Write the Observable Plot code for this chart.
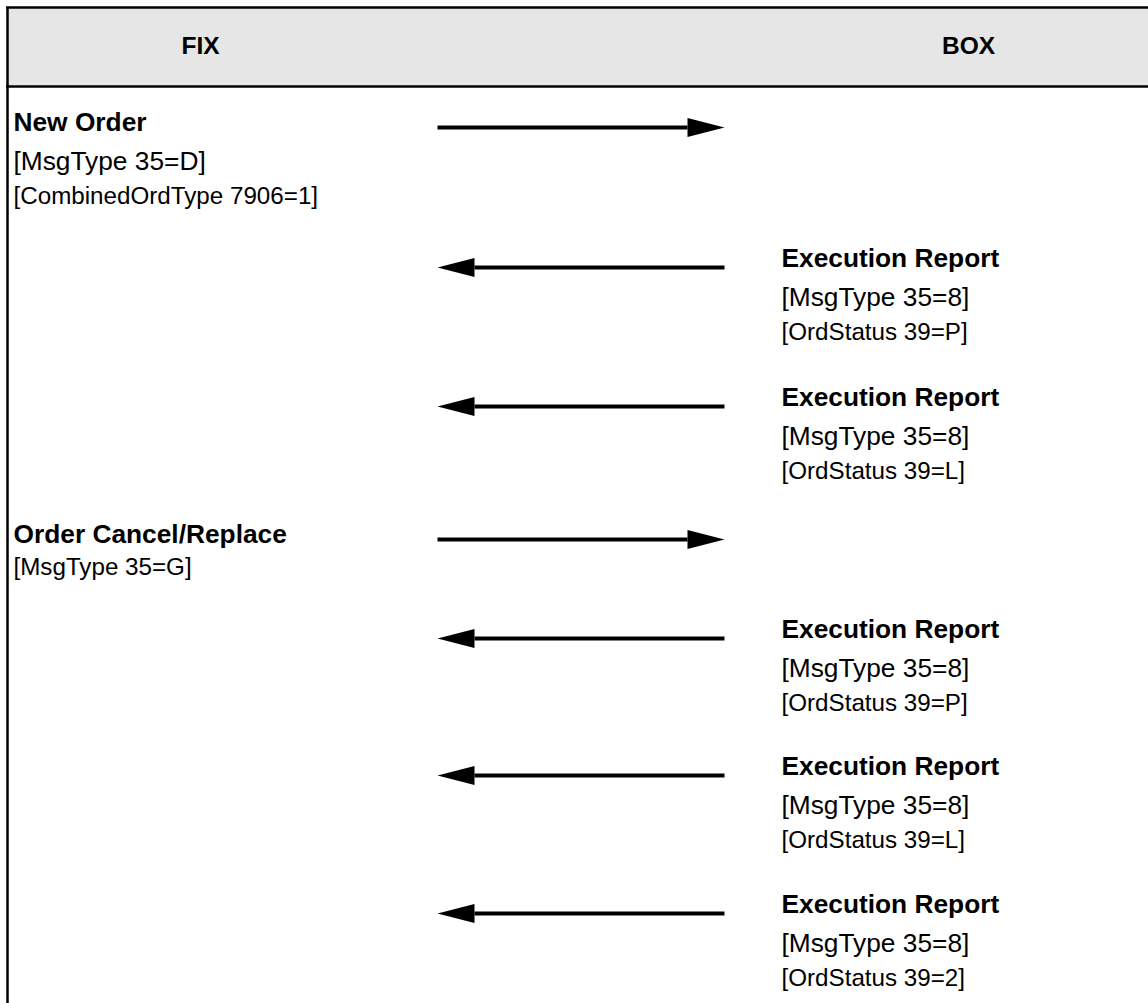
<!DOCTYPE html>
<html><head><meta charset="utf-8">
<script src="https://cdn.jsdelivr.net/npm/d3@7"></script>
<script src="https://cdn.jsdelivr.net/npm/@observablehq/plot@0.6"></script>
<style>html,body{margin:0;padding:0;background:#fff}</style>
</head><body><div id="chart"></div>
<script>
// ---- data ----
const participants = ["FIX", "BOX"];
const messageTitles = ["New Order", "Execution Report", "Execution Report", "Order Cancel/Replace", "Execution Report", "Execution Report", "Execution Report"];
const messageFrom = ["FIX", "BOX", "BOX", "FIX", "BOX", "BOX", "BOX"];
const messageTimes = [127, 267, 406, 539, 638, 775, 913];
const messageTags = [
  ["[MsgType 35=D]", "[CombinedOrdType 7906=1]"],
  ["[MsgType 35=8]", "[OrdStatus 39=P]"],
  ["[MsgType 35=8]", "[OrdStatus 39=L]"],
  ["[MsgType 35=G]"],
  ["[MsgType 35=8]", "[OrdStatus 39=P]"],
  ["[MsgType 35=8]", "[OrdStatus 39=L]"],
  ["[MsgType 35=8]", "[OrdStatus 39=2]"]
];

// ---- layout ----
const W = 1148, H = 1003;
const FONT = "Liberation Sans, Arial, Helvetica, sans-serif";
const lane = {FIX: {label: 200, text: 13}, BOX: {label: 968, text: 781}};
const arrowLeft = 437, arrowRight = 724;
const headLen = 37, headHalf = 9.5;
const frameTop = 7, frameLeft = 7, headerBottom = 86;
const titleSize = 26.3, bigTag = 26.3, smallTag = 24.2;

const messages = messageTitles.map((title, i) => ({
  title, from: messageFrom[i], t: messageTimes[i], tags: messageTags[i]
}));

const shafts = messages.map(m => m.from === "FIX"
  ? {x1: arrowLeft, x2: arrowRight - headLen, y: m.t}
  : {x1: arrowRight, x2: arrowLeft + headLen, y: m.t});

const heads = messages.map(m => ({
  x: m.from === "FIX" ? arrowRight : arrowLeft, y: m.t, dir: m.from === "FIX" ? 1 : -1
}));
const headSymbol = dir => ({
  draw(ctx) {
    ctx.moveTo(0, 0);
    ctx.lineTo(-dir * headLen, -headHalf);
    ctx.lineTo(-dir * headLen, headHalf);
    ctx.closePath();
  }
});

const titles = [], tagLines = [];
messages.forEach(m => {
  const x = lane[m.from].text;
  let y = m.from === "FIX" ? m.t - 5 : m.t - 9;
  titles.push({x, y, text: m.title});
  m.tags.forEach((tag, j) => {
    const big = j === 0 && m.tags.length > 1;
    y += j === 0 ? (big ? 39 : 33) : 35;
    tagLines.push({x, y, text: tag, size: big ? bigTag : smallTag});
  });
});

const chart = Plot.plot({
  width: W, height: H, margin: 0,
  style: {fontFamily: FONT, background: "#fff"},
  x: {domain: [0, W], range: [0, W], axis: null},
  y: {domain: [0, H], range: [0, H], axis: null},
  marks: [
    Plot.rect([0], {x1: frameLeft, x2: W, y1: frameTop, y2: headerBottom, fill: "#e6e6e6"}),
    Plot.ruleY([frameTop, headerBottom], {x1: frameLeft - 1, x2: W, stroke: "#000", strokeWidth: 2.5}),
    Plot.ruleX([frameLeft], {y1: frameTop, y2: H, stroke: "#000", strokeWidth: 2.5}),
    Plot.text(participants, {x: d => lane[d].label, y: 46, text: d => d,
      fontSize: 24.5, fontWeight: "bold", fontFamily: FONT, fill: "#000"}),
    Plot.link(shafts, {x1: "x1", x2: "x2", y1: "y", y2: "y", stroke: "#000", strokeWidth: 4}),
    ...[1, -1].map(dir => Plot.dot(heads.filter(h => h.dir === dir), {x: "x", y: "y",
      symbol: headSymbol(dir), fill: "#000", stroke: "none"})),
    Plot.text(titles, {x: "x", y: "y", text: "text", fontSize: titleSize, fontWeight: "bold",
      textAnchor: "start", fontFamily: FONT, fill: "#000"}),
    ...[bigTag, smallTag].map(s => Plot.text(tagLines.filter(d => d.size === s), {x: "x", y: "y", text: "text",
      fontSize: s, textAnchor: "start", fontFamily: FONT, fill: "#000"}))
  ]
});
document.getElementById("chart").appendChild(chart);
</script>
</body></html>
